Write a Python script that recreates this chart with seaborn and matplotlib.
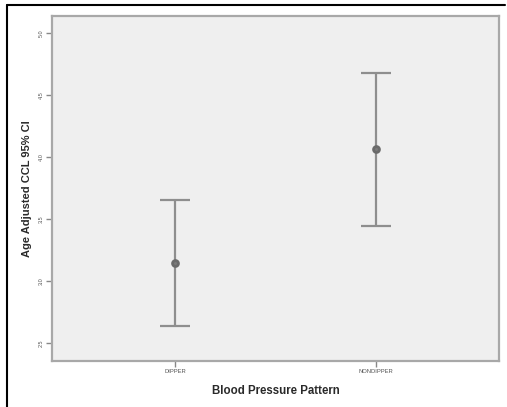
import matplotlib
matplotlib.use("Agg")
import matplotlib.pyplot as plt
import seaborn as sns
import pandas as pd
from matplotlib.lines import Line2D

categories = ["DIPPER", "NONDIPPER"]
means = [3.145, 4.062]
ci_lower = [2.637, 3.446]
ci_upper = [3.653, 4.680]
yticks = [2.5, 3.0, 3.5, 4.0, 4.5, 5.0]
ytick_labels = ["2.5", "3.0", "3.5", "4.0", "4.5", "5.0"]

sns.set_style("white")
plt.rcParams["font.family"] = ["Liberation Sans", "DejaVu Sans"]

fig = plt.figure(figsize=(5.07, 4.07), dpi=100)
W, H = 507, 407
ax = fig.add_axes([52 / W, 1 - 361 / H, (499 - 52) / W, (361 - 16) / H])
ax.set_facecolor("#EFEFEF")

df = pd.DataFrame({"pattern": categories, "mean": means})
sns.pointplot(data=df, x="pattern", y="mean", order=categories, errorbar=None,
              linestyle="none", marker="o", color="#7A7A7A", markersize=4.2,
              markeredgecolor="#6A6A6A", ax=ax, zorder=4)

pos = list(range(len(categories)))
err_lo = [m - l for m, l in zip(means, ci_lower)]
err_hi = [u - m for m, u in zip(means, ci_upper)]
ax.errorbar(pos, means, yerr=[err_lo, err_hi], fmt="none", ecolor="#8E8E8E",
            elinewidth=1.6, capsize=11, capthick=1.6, zorder=3)

ax.set_xlim(-0.611, 1.611)
ax.set_ylim(2.355, 5.137)
ax.set_yticks(yticks)
ax.set_yticklabels(ytick_labels, rotation=90, va="center", fontsize=4, color="#555555")
ax.set_xticks(pos)
ax.set_xticklabels(categories, fontsize=4.2, color="#555555")
ax.tick_params(axis="both", which="both", length=4, width=1, color="#888888",
               direction="out", left=True, bottom=True, pad=2)

for s in ax.spines.values():
    s.set_color("#A8A8A8")
    s.set_linewidth(1.6)

ax.set_xlabel("Blood Pressure Pattern", fontsize=8.3, fontweight="bold", color="#2A2A2A", labelpad=8)
ax.set_ylabel("Age Adjusted CCL 95% CI", fontsize=8, fontweight="bold", color="#2A2A2A", labelpad=5)

# image frame (left and top border)
fig.add_artist(Line2D([7 / W, 7 / W], [0, 1 - 5 / H], transform=fig.transFigure, color="black", lw=1.5))
fig.add_artist(Line2D([7 / W, 505 / W], [1 - 5 / H, 1 - 5 / H], transform=fig.transFigure, color="black", lw=1.5))

fig.savefig("out.png", dpi=100, facecolor="white")
